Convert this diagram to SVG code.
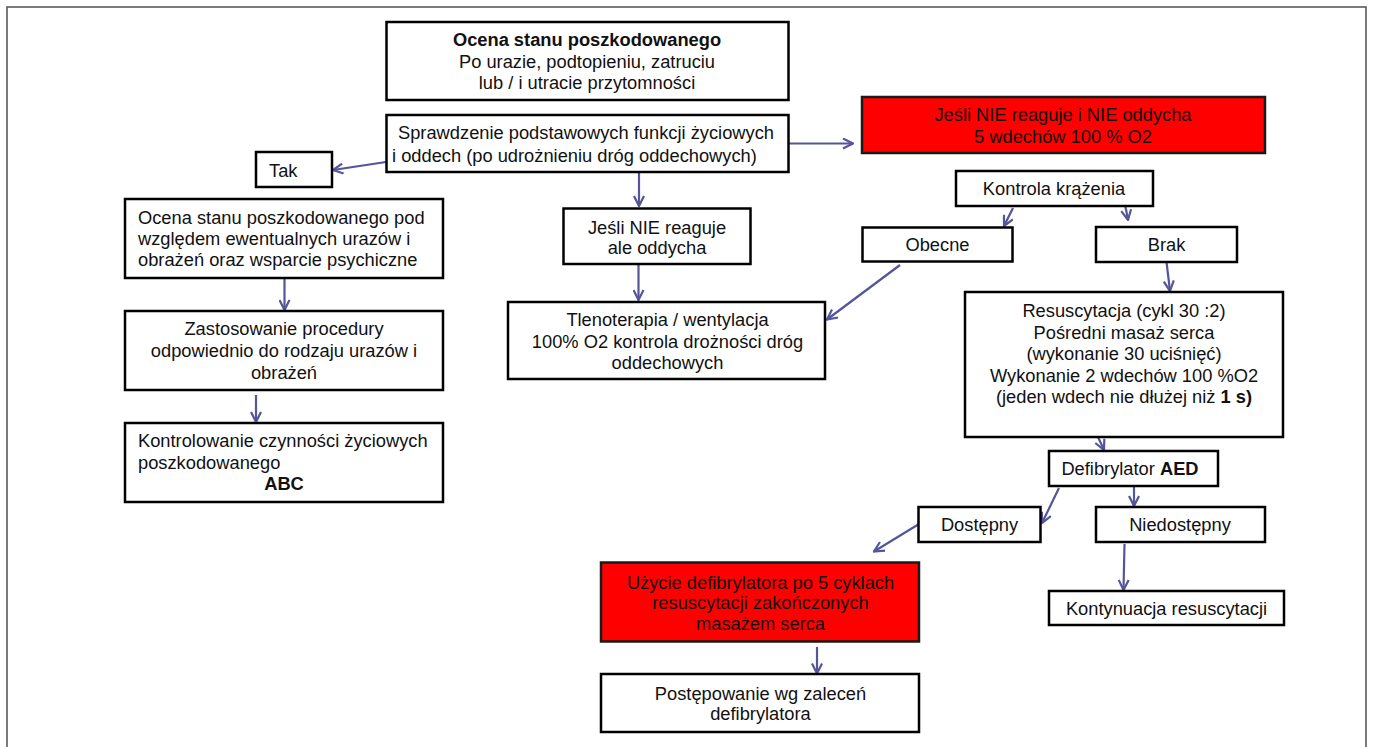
<svg xmlns="http://www.w3.org/2000/svg" width="1374" height="747" viewBox="0 0 1374 747">
  <style>
    .box { fill: #ffffff; stroke: #000000; stroke-width: 2.5; }
    .red { fill: #ff0000; stroke: #1a1a1a; stroke-width: 2.5; }
    text { font-family: "Liberation Sans", Arial, sans-serif; font-size: 18.3px; fill: #111111; }
    .c { text-anchor: middle; }
    .b { font-weight: bold; }
    .link { fill: none; stroke: #55559a; stroke-width: 2.2; marker-end: url(#arrow); }
  </style>
  <defs>
    <marker id="arrow" viewBox="0 0 12 12" refX="11" refY="6" markerWidth="12" markerHeight="12" markerUnits="userSpaceOnUse" orient="auto">
      <path d="M1,1 L11,6 L1,11" fill="none" stroke="#55559a" stroke-width="2.2"/>
    </marker>
  </defs>

  <rect x="0" y="0" width="1374" height="747" fill="#ffffff"/>
  <!-- page frame -->
  <rect x="7" y="7" width="1359" height="760" fill="none" stroke="#5a5a5a" stroke-width="1.6"/>

  <g id="connectors">
    <line class="link" x1="386" y1="162" x2="333" y2="170"/>
    <line class="link" x1="789" y1="143.5" x2="853" y2="143.5"/>
    <line class="link" x1="639" y1="172" x2="639" y2="206"/>
    <line class="link" x1="638.5" y1="264" x2="638.5" y2="300"/>
    <line class="link" x1="900" y1="265" x2="827" y2="319.5"/>
    <line class="link" x1="1013" y1="208" x2="1004" y2="226"/>
    <line class="link" x1="1124" y1="199" x2="1128" y2="220"/>
    <line class="link" x1="1166.5" y1="262" x2="1170" y2="291"/>
    <line class="link" x1="1098" y1="437" x2="1104" y2="450"/>
    <line class="link" x1="1059" y1="488" x2="1042" y2="523"/>
    <line class="link" x1="1134" y1="486" x2="1134" y2="506"/>
    <line class="link" x1="919" y1="524" x2="874" y2="551.5"/>
    <line class="link" x1="1124.5" y1="544" x2="1123.5" y2="590"/>
    <line class="link" x1="817" y1="647" x2="817" y2="673.5"/>
    <line class="link" x1="284.5" y1="278" x2="284.5" y2="310"/>
    <line class="link" x1="256" y1="395" x2="256" y2="422"/>
  </g>

  <g id="ocena-stanu">
    <rect class="box" x="386.5" y="22" width="402" height="78"/>
    <text class="c b" x="587" y="46">Ocena stanu poszkodowanego</text>
    <text class="c" x="587" y="67.5">Po urazie, podtopieniu, zatruciu</text>
    <text class="c" x="587" y="89">lub / i utracie przytomności</text>
  </g>

  <g id="sprawdzenie">
    <rect class="box" x="386.5" y="115" width="402" height="57"/>
    <text x="398" y="138.5">Sprawdzenie podstawowych funkcji życiowych</text>
    <text x="392" y="162">i oddech (po udrożnieniu dróg oddechowych)</text>
  </g>

  <g id="nie-oddycha">
    <rect class="red" x="862" y="97" width="403" height="56"/>
    <text class="c" x="1063" y="121">Jeśli NIE reaguje i NIE oddycha</text>
    <text class="c" x="1063" y="143">5 wdechów 100 % O2</text>
  </g>

  <g id="tak">
    <rect class="box" x="256" y="152" width="76" height="35"/>
    <text x="269" y="177">Tak</text>
  </g>

  <g id="ocena-urazow">
    <rect class="box" x="125" y="199" width="318" height="79"/>
    <text x="138" y="223.5">Ocena stanu poszkodowanego pod</text>
    <text x="138" y="244.5">względem ewentualnych urazów i</text>
    <text x="138" y="266">obrażeń oraz wsparcie psychiczne</text>
  </g>

  <g id="zastosowanie">
    <rect class="box" x="125" y="311" width="318" height="79"/>
    <text class="c" x="284" y="335">Zastosowanie procedury</text>
    <text class="c" x="284" y="356.5">odpowiednio do rodzaju urazów i</text>
    <text class="c" x="284" y="378.5">obrażeń</text>
  </g>

  <g id="kontrolowanie">
    <rect class="box" x="125" y="423" width="318" height="79"/>
    <text x="138" y="447">Kontrolowanie czynności życiowych</text>
    <text x="138" y="468.5">poszkodowanego</text>
    <text class="c b" x="284" y="490">ABC</text>
  </g>

  <g id="nie-reaguje">
    <rect class="box" x="563.5" y="208.5" width="187" height="55.5"/>
    <text class="c" x="657" y="233.5">Jeśli NIE reaguje</text>
    <text class="c" x="657" y="254">ale oddycha</text>
  </g>

  <g id="tlenoterapia">
    <rect class="box" x="508" y="302" width="317" height="77"/>
    <text class="c" x="667.5" y="326">Tlenoterapia / wentylacja</text>
    <text class="c" x="667.5" y="348">100% O2 kontrola drożności dróg</text>
    <text class="c" x="667.5" y="369">oddechowych</text>
  </g>

  <g id="kontrola-krazenia">
    <rect class="box" x="956" y="171" width="197" height="35"/>
    <text class="c" x="1054" y="194.5">Kontrola krążenia</text>
  </g>

  <g id="obecne">
    <rect class="box" x="862.5" y="227.5" width="150" height="34"/>
    <text class="c" x="937.5" y="250.5">Obecne</text>
  </g>

  <g id="brak">
    <rect class="box" x="1096" y="227" width="141" height="35"/>
    <text class="c" x="1166.5" y="250.5">Brak</text>
  </g>

  <g id="resuscytacja">
    <rect class="box" x="965" y="292" width="318" height="145"/>
    <text class="c" x="1124" y="317">Resuscytacja (cykl 30 :2)</text>
    <text class="c" x="1124" y="338.5">Pośredni masaż serca</text>
    <text class="c" x="1124" y="360">(wykonanie 30 uciśnięć)</text>
    <text class="c" x="1124" y="381.5">Wykonanie 2 wdechów 100 %O2</text>
    <text class="c" x="1124" y="403">(jeden wdech nie dłużej niż <tspan class="b">1 s)</tspan></text>
  </g>

  <g id="defibrylator">
    <rect class="box" x="1049" y="451" width="169" height="35"/>
    <text class="c" x="1130" y="474.5">Defibrylator <tspan class="b">AED</tspan></text>
  </g>

  <g id="dostepny">
    <rect class="box" x="918.5" y="507" width="122" height="35"/>
    <text class="c" x="979.5" y="531">Dostępny</text>
  </g>

  <g id="niedostepny">
    <rect class="box" x="1096" y="507" width="169" height="35"/>
    <text class="c" x="1180" y="531">Niedostępny</text>
  </g>

  <g id="kontynuacja">
    <rect class="box" x="1049" y="591" width="235" height="34"/>
    <text class="c" x="1166.5" y="614.5">Kontynuacja resuscytacji</text>
  </g>

  <g id="uzycie-defibrylatora">
    <rect class="red" x="601" y="562.5" width="318" height="79"/>
    <text class="c" x="760.5" y="588.5">Użycie defibrylatora po 5 cyklach</text>
    <text class="c" x="760.5" y="608.5">resuscytacji zakończonych</text>
    <text class="c" x="760.5" y="629.5">masażem serca</text>
  </g>

  <g id="postepowanie">
    <rect class="box" x="601" y="674" width="318" height="58"/>
    <text class="c" x="760.5" y="699.5">Postępowanie wg zaleceń</text>
    <text class="c" x="760.5" y="720">defibrylatora</text>
  </g>
</svg>
